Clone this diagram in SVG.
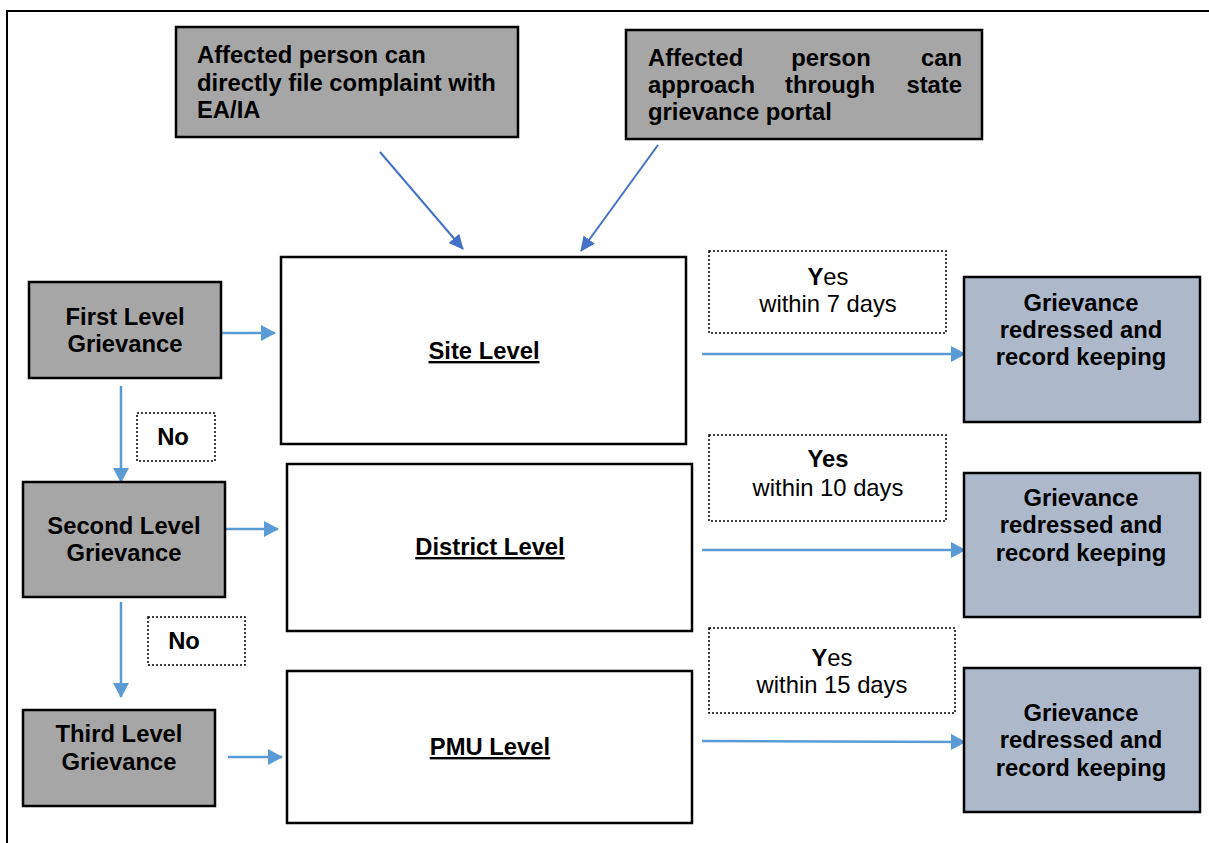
<svg xmlns="http://www.w3.org/2000/svg" width="1209" height="843" viewBox="0 0 1209 843">
<style>
text{font-family:"Liberation Sans",Arial,sans-serif;font-size:23.8px;fill:#000}
.b{font-weight:bold}
.c{text-anchor:middle}
.e{text-anchor:end}
.u{text-decoration:underline}
.gray{fill:#A6A6A6;stroke:#000;stroke-width:2.5}
.blue{fill:#ADB9CA;stroke:#000;stroke-width:2.5}
.white{fill:#fff;stroke:#000;stroke-width:2.5}
.dot{fill:#fff;stroke:#000;stroke-width:1.5;stroke-dasharray:2 2}
.c1{stroke:#5B9BD5;stroke-width:2.5;fill:none;marker-end:url(#ah1)}
.c2{stroke:#4472C4;stroke-width:2;fill:none;marker-end:url(#ah2)}
</style>
<defs>
<marker id="ah1" markerUnits="userSpaceOnUse" markerWidth="16" markerHeight="18" refX="14" refY="8" orient="auto"><path d="M0,0 L15,8 L0,16 Z" fill="#5B9BD5"/></marker>
<marker id="ah2" markerUnits="userSpaceOnUse" markerWidth="16" markerHeight="18" refX="14" refY="7" orient="auto"><path d="M0,0 L15,7 L0,14 Z" fill="#4472C4"/></marker>
</defs>
<rect width="1209" height="843" fill="#fff"/>
<path d="M6,11 H1209 M7,11 V843" stroke="#000" stroke-width="2" fill="none"/>

<g id="connectors">
<path class="c2" d="M380,152 L463,249"/>
<path class="c2" d="M658,145 L581,251"/>
<path class="c1" d="M222,333 L275,333"/>
<path class="c1" d="M225,529 L278,529"/>
<path class="c1" d="M228,757 L282,757"/>
<path class="c1" d="M121,386 L121,482"/>
<path class="c1" d="M121,602 L121,697"/>
<path class="c1" d="M702,354 L965,354"/>
<path class="c1" d="M702,550 L965,550"/>
<path class="c1" d="M702,741 L965,742"/>
</g>

<g id="top1"><rect class="gray" x="176" y="27" width="342" height="110"/>
<text class="b" x="197" y="63">Affected person can</text>
<text class="b" x="197" y="91">directly file complaint with</text>
<text class="b" x="197" y="118">EA/IA</text></g>

<g id="top2"><rect class="gray" x="626" y="30" width="356" height="109"/>
<text class="b" x="648" y="66">Affected</text><text class="b c" x="831" y="66">person</text><text class="b e" x="962" y="66">can</text>
<text class="b" x="648" y="93">approach</text><text class="b c" x="830" y="93">through</text><text class="b e" x="962" y="93">state</text>
<text class="b" x="648" y="120">grievance portal</text></g>

<g id="first"><rect class="gray" x="29" y="282" width="192" height="96"/>
<text class="b c" x="125" y="325">First Level</text><text class="b c" x="125" y="352">Grievance</text></g>

<g id="second"><rect class="gray" x="23" y="482" width="202" height="115"/>
<text class="b c" x="124" y="534">Second Level</text><text class="b c" x="124" y="561">Grievance</text></g>

<g id="third"><rect class="gray" x="23" y="710" width="192" height="96"/>
<text class="b c" x="119" y="742">Third Level</text><text class="b c" x="119" y="770">Grievance</text></g>

<g id="no1"><rect class="dot" x="137" y="413" width="78" height="48"/><text class="b c" x="173" y="445">No</text></g>
<g id="no2"><rect class="dot" x="148" y="617" width="97" height="48"/><text class="b c" x="184" y="649">No</text></g>

<g id="site"><rect class="white" x="281" y="257" width="405" height="187"/><text class="b c u" x="484" y="359">Site Level</text></g>
<g id="district"><rect class="white" x="287" y="464" width="405" height="167"/><text class="b c u" x="490" y="555">District Level</text></g>
<g id="pmu"><rect class="white" x="287" y="671" width="405" height="152"/><text class="b c u" x="490" y="755">PMU Level</text></g>

<g id="yes1"><rect class="dot" x="709" y="251" width="237" height="82"/>
<text class="c" x="828" y="285"><tspan class="b">Y</tspan>es</text><text class="c" x="828" y="312">within 7 days</text></g>
<g id="yes2"><rect class="dot" x="709" y="435" width="237" height="86"/>
<text class="c b" x="828" y="467">Yes</text><text class="c" x="828" y="496">within 10 days</text></g>
<g id="yes3"><rect class="dot" x="709" y="628" width="246" height="85"/>
<text class="c" x="832" y="666"><tspan class="b">Y</tspan>es</text><text class="c" x="832" y="693">within 15 days</text></g>

<g id="red1"><rect class="blue" x="964" y="277" width="236" height="145"/>
<text class="b c" x="1081" y="311">Grievance</text><text class="b c" x="1081" y="338">redressed and</text><text class="b c" x="1081" y="365">record keeping</text></g>
<g id="red2"><rect class="blue" x="964" y="473" width="236" height="144"/>
<text class="b c" x="1081" y="506">Grievance</text><text class="b c" x="1081" y="533">redressed and</text><text class="b c" x="1081" y="561">record keeping</text></g>
<g id="red3"><rect class="blue" x="964" y="668" width="236" height="144"/>
<text class="b c" x="1081" y="721">Grievance</text><text class="b c" x="1081" y="748">redressed and</text><text class="b c" x="1081" y="776">record keeping</text></g>
</svg>
